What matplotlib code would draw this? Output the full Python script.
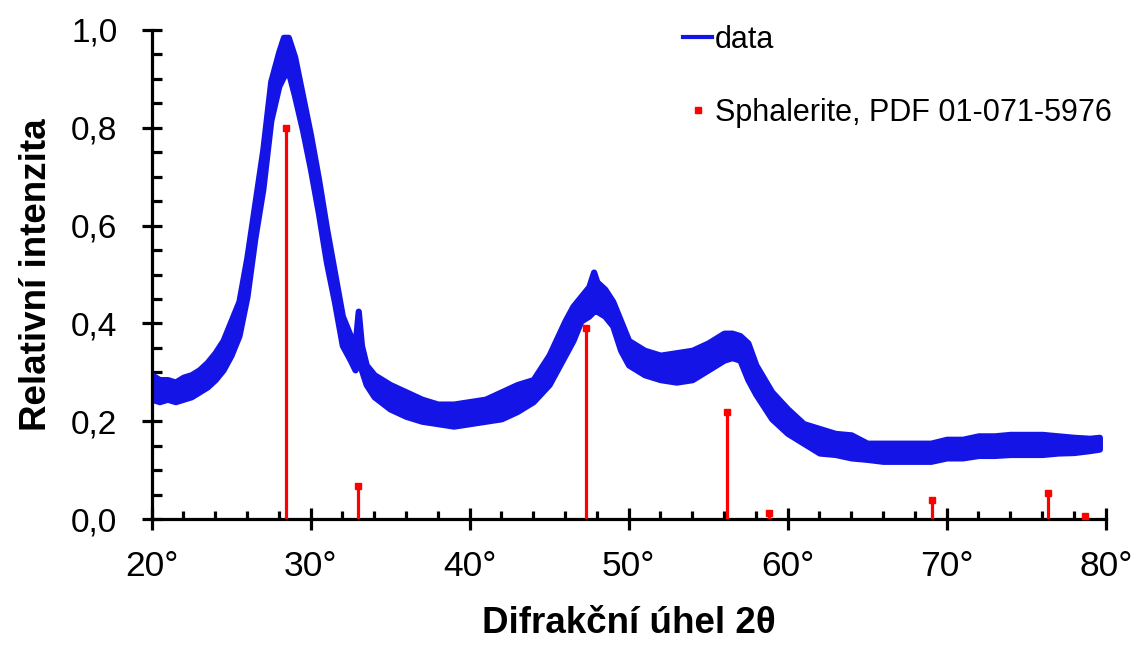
import matplotlib
matplotlib.use("Agg")
import matplotlib.pyplot as plt
from matplotlib.lines import Line2D
from matplotlib.ticker import MultipleLocator, FuncFormatter

plt.rcParams['font.family'] = ['Liberation Sans', 'DejaVu Sans']

two_theta = [20.0, 20.5, 21.0, 21.5, 22.0, 22.5, 23.0, 23.5, 24.0, 24.5, 25.0, 25.5,
             26.0, 26.5, 27.0, 27.5, 28.0, 28.3, 28.6, 29.0, 29.5, 30.0, 30.5, 31.0,
             31.5, 32.0, 32.5, 32.8, 33.0, 33.2, 33.5, 34.0, 35.0, 36.0, 37.0, 38.0,
             39.0, 40.0, 41.0, 42.0, 43.0, 44.0, 45.0, 46.0, 46.5, 47.0, 47.5, 47.8,
             48.0, 48.5, 49.0, 49.5, 50.0, 51.0, 52.0, 53.0, 54.0, 55.0, 56.0, 56.5,
             57.0, 57.5, 58.0, 59.0, 60.0, 61.0, 62.0, 63.0, 64.0, 65.0, 66.0, 67.0,
             68.0, 69.0, 70.0, 71.0, 72.0, 73.0, 74.0, 75.0, 76.0, 77.0, 78.0, 79.0,
             79.6]
data_low = [0.245, 0.240, 0.245, 0.240, 0.245, 0.250, 0.260, 0.270, 0.285, 0.305, 0.335, 0.375,
            0.455, 0.575, 0.675, 0.815, 0.885, 0.905, 0.915, 0.865, 0.795, 0.715, 0.625, 0.525,
            0.445, 0.355, 0.325, 0.305, 0.345, 0.305, 0.275, 0.250, 0.225, 0.210, 0.200, 0.195,
            0.190, 0.195, 0.200, 0.205, 0.220, 0.240, 0.275, 0.335, 0.365, 0.405, 0.415, 0.425,
            0.425, 0.415, 0.395, 0.345, 0.315, 0.295, 0.285, 0.280, 0.285, 0.305, 0.325, 0.330,
            0.325, 0.285, 0.255, 0.205, 0.175, 0.155, 0.135, 0.132, 0.125, 0.122, 0.118, 0.118,
            0.118, 0.118, 0.125, 0.125, 0.130, 0.130, 0.132, 0.132, 0.132, 0.135, 0.136, 0.140,
            0.143]
data_high = [0.295, 0.285, 0.285, 0.280, 0.290, 0.295, 0.305, 0.320, 0.340, 0.365, 0.405, 0.445,
             0.535, 0.645, 0.755, 0.895, 0.955, 0.985, 0.985, 0.945, 0.865, 0.785, 0.695, 0.595,
             0.505, 0.415, 0.375, 0.355, 0.425, 0.355, 0.315, 0.295, 0.275, 0.260, 0.245, 0.235,
             0.235, 0.240, 0.245, 0.260, 0.275, 0.285, 0.335, 0.405, 0.435, 0.455, 0.475, 0.505,
             0.485, 0.470, 0.445, 0.405, 0.365, 0.345, 0.335, 0.340, 0.345, 0.360, 0.380, 0.380,
             0.375, 0.360, 0.315, 0.260, 0.225, 0.195, 0.185, 0.175, 0.172, 0.155, 0.155, 0.155,
             0.155, 0.155, 0.163, 0.163, 0.170, 0.170, 0.173, 0.173, 0.173, 0.170, 0.167, 0.165,
             0.167]

# reference pattern
ref_pos = [28.47, 32.97, 47.34, 56.18, 58.85, 69.1, 76.37, 78.7]
ref_int = [0.80, 0.068, 0.39, 0.218, 0.012, 0.039, 0.054, 0.006]

data_label = "data"
ref_label = "Sphalerite, PDF 01-071-5976"
x_label = "Difrakční úhel 2θ"
y_label = "Relativní intenzita"

blue = '#1414e6'
red = '#ff0000'

fig = plt.figure(figsize=(11.36, 6.45), dpi=100)
ax = fig.add_axes([151.5 / 1136, 126 / 645, 954.2 / 1136, 489 / 645])

ax.fill_between(two_theta, data_low, data_high, color=blue, lw=4.5, edgecolor=blue,
                joinstyle='round', zorder=2)
ax.vlines(ref_pos, 0, ref_int, color=red, lw=2.3, zorder=3)
ax.plot(ref_pos, ref_int, 's', color=red, ms=4.5, zorder=4, clip_on=False)

ax.set_xlim(20, 80)
ax.set_ylim(0, 1.0)

for s in ['top', 'right']:
    ax.spines[s].set_visible(False)
for s in ['left', 'bottom']:
    ax.spines[s].set_linewidth(2.3)
    ax.spines[s].set_color('black')

ax.xaxis.set_major_locator(MultipleLocator(10))
ax.xaxis.set_minor_locator(MultipleLocator(2))
ax.yaxis.set_major_locator(MultipleLocator(0.2))
ax.yaxis.set_minor_locator(MultipleLocator(0.05))
ax.xaxis.set_major_formatter(FuncFormatter(lambda v, p: f"{v:.0f}°"))
ax.yaxis.set_major_formatter(FuncFormatter(lambda v, p: f"{v:.1f}".replace('.', ',')))

ax.tick_params(axis='x', which='major', direction='inout', length=16, width=2.3, pad=14,
               labelsize=25.5)
ax.tick_params(axis='x', which='minor', direction='in', length=5.5, width=2.3)
ax.tick_params(axis='y', which='major', direction='inout', length=15, width=2.3, pad=17,
               labelsize=24)
ax.tick_params(axis='y', which='minor', direction='in', length=7, width=2.3)

ax.set_xlabel(x_label, fontsize=26.5, fontweight='bold', labelpad=17)
ax.set_ylabel(y_label, fontsize=26.5, fontweight='bold', labelpad=12)

handles = [Line2D([], [], color=blue, lw=3),
           Line2D([], [], color=red, marker='s', ms=4.5, ls='none')]
leg = ax.legend(handles, [data_label, ref_label], loc='upper left',
                bbox_to_anchor=(683 / 1136, 1 - 25 / 645), bbox_transform=fig.transFigure,
                frameon=False, fontsize=22, handlelength=0.95, handletextpad=0.1,
                labelspacing=1.4, borderaxespad=0, borderpad=0)

fig.savefig("out.png", dpi=100)
